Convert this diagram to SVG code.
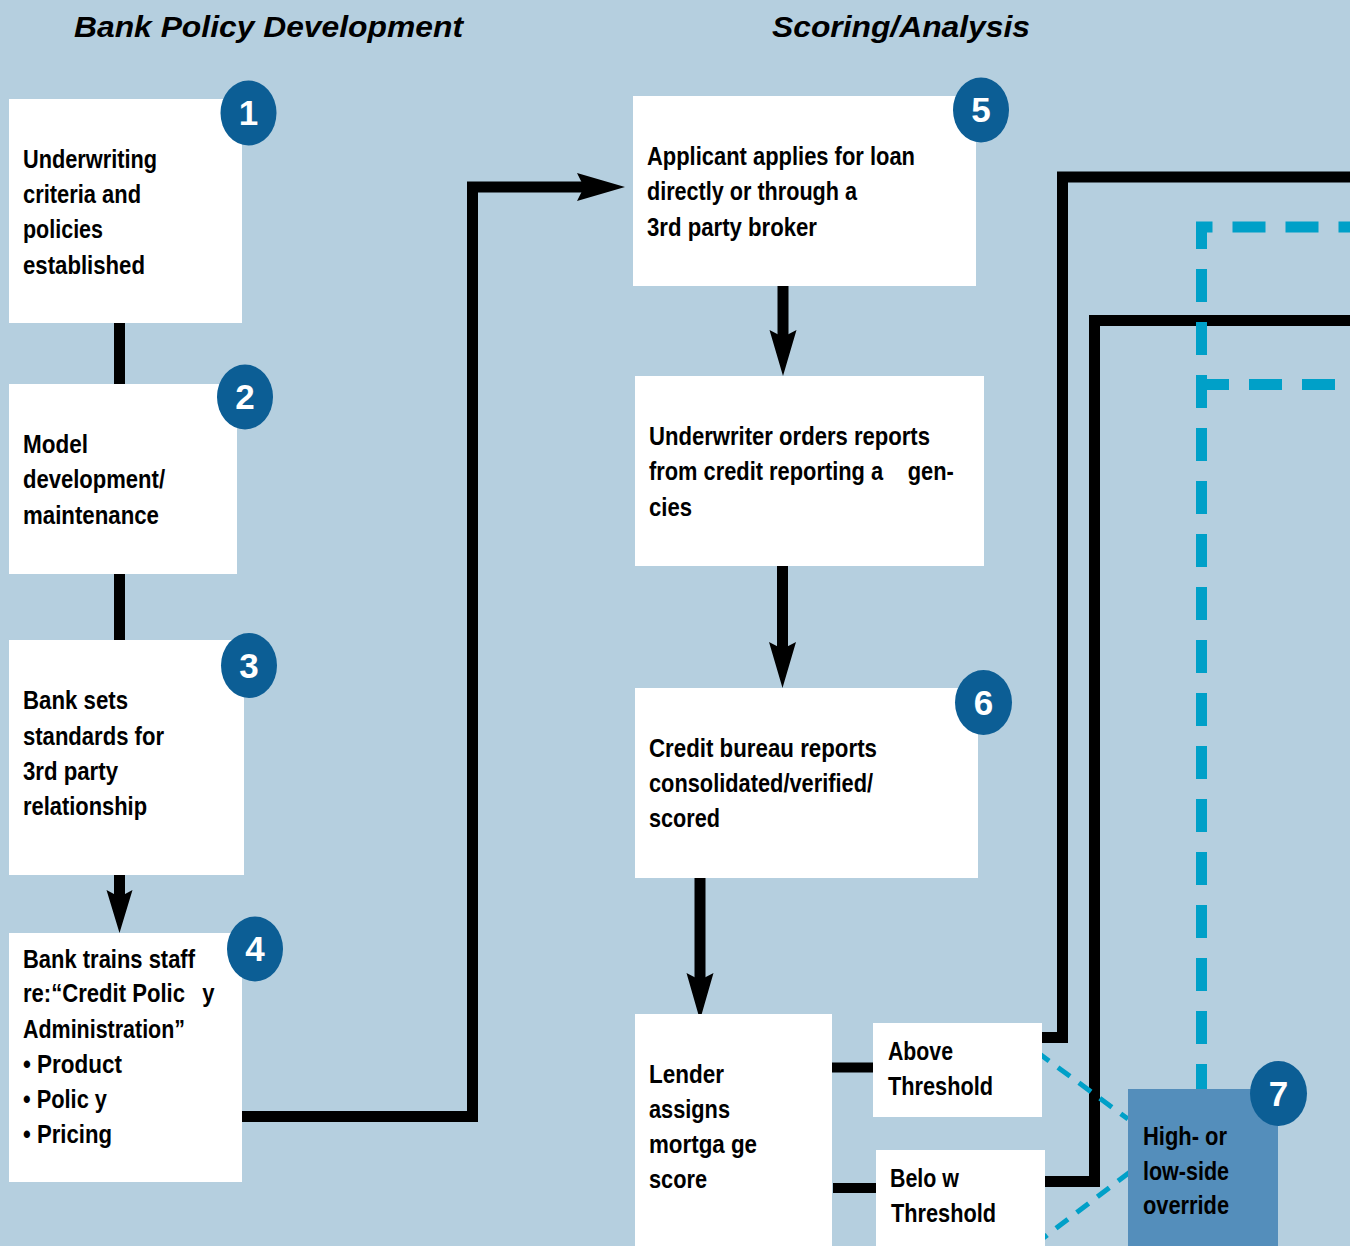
<svg xmlns="http://www.w3.org/2000/svg" width="1350" height="1246" viewBox="0 0 1350 1246">
<style>
.bg{fill:#b5cfdf}
.box{fill:#ffffff}
.box7{fill:#548ebb}
.t{font-family:"Liberation Sans",Arial,Helvetica,sans-serif;font-weight:bold;font-size:26px;fill:#000}
.title{font-family:"Liberation Sans",Arial,Helvetica,sans-serif;font-weight:bold;font-style:italic;font-size:30px;fill:#000}
.badge{fill:#0c5e95}
.num{font-family:"Liberation Sans",Arial,Helvetica,sans-serif;font-weight:bold;font-size:35px;fill:#fff;text-anchor:middle}
.ln{fill:none;stroke:#000;stroke-width:11;stroke-linejoin:miter;stroke-linecap:butt}
.ah{fill:#000}
.dash{fill:none;stroke:#00a0c8;stroke-width:11;stroke-dasharray:33 20}
.dash2{fill:none;stroke:#00a0c8;stroke-width:5;stroke-dasharray:15 11}
</style>
<rect class="bg" x="0" y="0" width="1350" height="1246"/>
<text class="title" x="74" y="37" textLength="389" lengthAdjust="spacingAndGlyphs">Bank Policy Development</text>
<text class="title" x="772" y="37" textLength="258" lengthAdjust="spacingAndGlyphs">Scoring/Analysis</text>

<g id="connectors">
<line class="ln" x1="119.5" y1="322" x2="119.5" y2="385"/>
<line class="ln" x1="119.5" y1="573" x2="119.5" y2="641"/>
<line class="ln" x1="119.5" y1="874" x2="119.5" y2="900"/>
<polygon class="ah" points="106.5,890 119.5,933 132.5,890 119.5,897"/>
<path class="ln" d="M242,1116.5 H472.5 V187 H585"/>
<polygon class="ah" points="577,173 625,187 577,201 584,187"/>
<line class="ln" x1="783" y1="285" x2="783" y2="340"/>
<polygon class="ah" points="769.5,330 783,376 796.5,330 783,337"/>
<line class="ln" x1="782.5" y1="565" x2="782.5" y2="652"/>
<polygon class="ah" points="769,642 782.5,688 796,642 782.5,649"/>
<line class="ln" x1="700" y1="877" x2="700" y2="983"/>
<polygon class="ah" points="686.5,973 700,1020 713.5,973 700,980"/>
<line class="ln" x1="831" y1="1067.5" x2="874" y2="1067.5" style="stroke-width:10"/>
<line class="ln" x1="833" y1="1188" x2="877" y2="1188" style="stroke-width:10"/>
<path class="ln" d="M1041,1037.5 H1062.5 V177 H1350"/>
<path class="ln" d="M1044,1181.5 H1094.5 V320.5 H1350"/>
<path class="dash" d="M1201.5,1089 V227 H1350" stroke-dashoffset="8"/>
<path class="dash" d="M1196,384.5 H1350" stroke-dasharray="36 22"/>
<line class="dash2" x1="1037" y1="1052" x2="1128" y2="1119"/>
<line class="dash2" x1="1130" y1="1172" x2="1042" y2="1239"/>
</g>

<g id="node1">
<rect class="box" x="9" y="99" width="233" height="224"/>
<text class="t" x="23" y="168" textLength="134" lengthAdjust="spacingAndGlyphs">Underwriting</text>
<text class="t" x="23" y="203" textLength="118" lengthAdjust="spacingAndGlyphs">criteria and</text>
<text class="t" x="23" y="238" textLength="80" lengthAdjust="spacingAndGlyphs">policies</text>
<text class="t" x="23" y="274" textLength="122" lengthAdjust="spacingAndGlyphs">established</text>
<ellipse class="badge" cx="248.5" cy="113" rx="28" ry="32.5"/>
<text class="num" x="248.5" y="125">1</text>
</g>

<g id="node2">
<rect class="box" x="9" y="384" width="228" height="190"/>
<text class="t" x="23" y="453" textLength="65" lengthAdjust="spacingAndGlyphs">Model</text>
<text class="t" x="23" y="488" textLength="142" lengthAdjust="spacingAndGlyphs">development/</text>
<text class="t" x="23" y="524" textLength="136" lengthAdjust="spacingAndGlyphs">maintenance</text>
<ellipse class="badge" cx="245" cy="397" rx="28" ry="32.5"/>
<text class="num" x="245" y="409">2</text>
</g>

<g id="node3">
<rect class="box" x="9" y="640" width="235" height="235"/>
<text class="t" x="23" y="709" textLength="105" lengthAdjust="spacingAndGlyphs">Bank sets</text>
<text class="t" x="23" y="745" textLength="141" lengthAdjust="spacingAndGlyphs">standards for</text>
<text class="t" x="23" y="780" textLength="95" lengthAdjust="spacingAndGlyphs">3rd party</text>
<text class="t" x="23" y="815" textLength="124" lengthAdjust="spacingAndGlyphs">relationship</text>
<ellipse class="badge" cx="249" cy="665.5" rx="28" ry="32.5"/>
<text class="num" x="249" y="677.5">3</text>
</g>

<g id="node4">
<rect class="box" x="9" y="933" width="233" height="249"/>
<text class="t" x="23" y="968" textLength="172" lengthAdjust="spacingAndGlyphs">Bank trains staff</text>
<text class="t" transform="translate(23,1002) scale(0.85,1)" x="0" y="0">re:“Credit Polic<tspan x="211">y</tspan></text>
<text class="t" x="23" y="1038" textLength="162" lengthAdjust="spacingAndGlyphs">Administration”</text>
<text class="t" x="23" y="1073" textLength="99" lengthAdjust="spacingAndGlyphs">• Product</text>
<text class="t" x="23" y="1108" textLength="84" lengthAdjust="spacingAndGlyphs">• Polic y</text>
<text class="t" x="23" y="1143" textLength="89" lengthAdjust="spacingAndGlyphs">• Pricing</text>
<ellipse class="badge" cx="255" cy="949" rx="28" ry="32.5"/>
<text class="num" x="255" y="961">4</text>
</g>

<g id="node5">
<rect class="box" x="633" y="96" width="343" height="190"/>
<text class="t" x="647" y="165" textLength="268" lengthAdjust="spacingAndGlyphs">Applicant applies for loan</text>
<text class="t" x="647" y="200" textLength="210" lengthAdjust="spacingAndGlyphs">directly or through a</text>
<text class="t" x="647" y="236" textLength="170" lengthAdjust="spacingAndGlyphs">3rd party broker</text>
<ellipse class="badge" cx="981" cy="110" rx="28" ry="32.5"/>
<text class="num" x="981" y="122">5</text>
</g>

<g id="node-underwriter">
<rect class="box" x="635" y="376" width="349" height="190"/>
<text class="t" x="649" y="445" textLength="281" lengthAdjust="spacingAndGlyphs">Underwriter orders reports</text>
<text class="t" transform="translate(649,480) scale(0.84,1)" x="0" y="0">from credit reporting a<tspan x="308">gen-</tspan></text>
<text class="t" x="649" y="516" textLength="43" lengthAdjust="spacingAndGlyphs">cies</text>
</g>

<g id="node6">
<rect class="box" x="635" y="688" width="343" height="190"/>
<text class="t" x="649" y="757" textLength="228" lengthAdjust="spacingAndGlyphs">Credit bureau reports</text>
<text class="t" x="649" y="792" textLength="224" lengthAdjust="spacingAndGlyphs">consolidated/verified/</text>
<text class="t" x="649" y="827" textLength="71" lengthAdjust="spacingAndGlyphs">scored</text>
<ellipse class="badge" cx="983.5" cy="702.5" rx="28.5" ry="32.5"/>
<text class="num" x="983.5" y="714.5">6</text>
</g>

<g id="node-lender">
<rect class="box" x="635" y="1014" width="197" height="240"/>
<text class="t" x="649" y="1083" textLength="75" lengthAdjust="spacingAndGlyphs">Lender</text>
<text class="t" x="649" y="1118" textLength="81" lengthAdjust="spacingAndGlyphs">assigns</text>
<text class="t" x="649" y="1153" textLength="108" lengthAdjust="spacingAndGlyphs">mortga ge</text>
<text class="t" x="649" y="1188" textLength="58" lengthAdjust="spacingAndGlyphs">score</text>
</g>

<g id="node-above">
<rect class="box" x="873" y="1023" width="169" height="94"/>
<text class="t" x="888" y="1060" textLength="65" lengthAdjust="spacingAndGlyphs">Above</text>
<text class="t" x="888" y="1095" textLength="105" lengthAdjust="spacingAndGlyphs">Threshold</text>
</g>

<g id="node-below">
<rect class="box" x="876" y="1150" width="169" height="100"/>
<text class="t" x="890" y="1187" textLength="69" lengthAdjust="spacingAndGlyphs">Belo w</text>
<text class="t" x="891" y="1222" textLength="105" lengthAdjust="spacingAndGlyphs">Threshold</text>
</g>

<g id="node7">
<rect class="box7" x="1128" y="1089" width="150" height="165"/>
<text class="t" x="1143" y="1145" textLength="84" lengthAdjust="spacingAndGlyphs">High- or</text>
<text class="t" x="1143" y="1180" textLength="86" lengthAdjust="spacingAndGlyphs">low-side</text>
<text class="t" x="1143" y="1214" textLength="86" lengthAdjust="spacingAndGlyphs">override</text>
<ellipse class="badge" cx="1278.5" cy="1093.5" rx="28.5" ry="32.5"/>
<text class="num" x="1278.5" y="1105.5">7</text>
</g>
</svg>
